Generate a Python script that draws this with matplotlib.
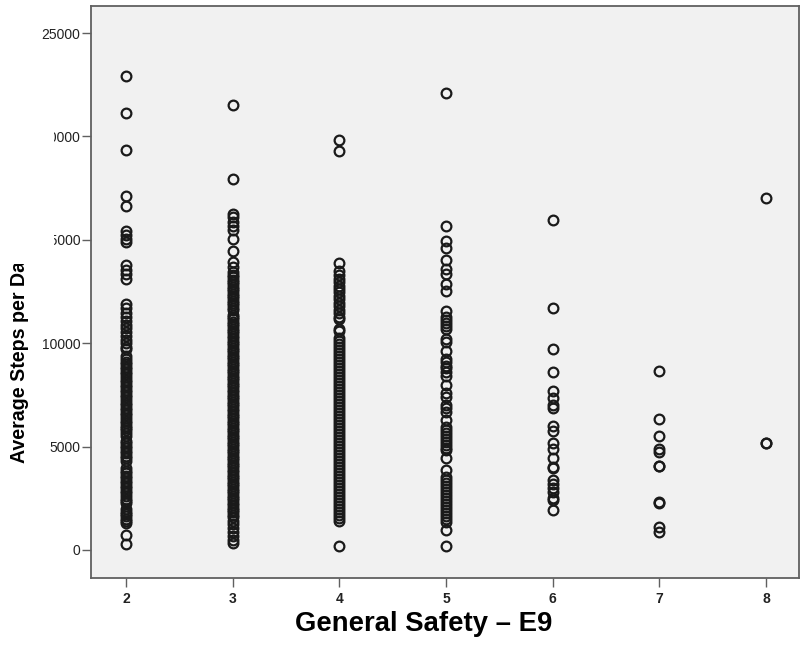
import matplotlib
matplotlib.use('Agg')
import matplotlib.pyplot as plt
from matplotlib.patches import Rectangle

plt.rcParams['font.family'] = ['Liberation Sans', 'DejaVu Sans']

# average daily steps for each general safety score (E9)
safety_2 = [22940, 21150, 19350, 17120, 16640,
            15420, 15230, 15060, 14900,
            13770, 13560, 13330, 13100,
            11880, 11690, 11480, 11260, 11080, 10900, 10720, 10540, 10360, 10170, 9990, 9830, 9700,
            9360, 9240, 9110, 8980, 8870, 8730, 8610, 8500, 8370, 8240, 8130, 8000, 7880, 7740,
            7630, 7500, 7390, 7250, 7130, 7010, 6880, 6770, 6640, 6510, 6400, 6260, 6150, 6020,
            5890, 5780, 5650, 5530, 5290, 5160, 5040, 4930, 4800, 4680, 4560, 4430, 4320,
            3950, 3820, 3710, 3580, 3460, 3340, 3220, 3100, 2980, 2850, 2740, 2610, 2490, 2370,
            2250, 1980, 1860, 1750, 1630, 1510, 1400, 1300,
            720, 280]
safety_3 = [21530, 17950, 16250, 16080, 15880, 15690, 15480, 15040, 14450, 13920, 13700, 13450,
            13300, 13190, 13080, 12960, 12850, 12740, 12620, 12510, 12400, 12280, 12170, 12050,
            11940, 11830, 11710, 11600, 11380, 11270, 11150, 11040, 10930, 10810, 10700, 10590,
            10470, 10360, 10240, 10130, 10020, 9900, 9790, 9680, 9560, 9450, 9330, 9220, 9110,
            8990, 8880, 8770, 8650, 8540, 8420, 8310, 8200, 8080, 7970, 7860, 7740, 7630, 7510,
            7400, 7290, 7170, 7060, 6950, 6830, 6720, 6600, 6490, 6380, 6260, 6150, 6040, 5920,
            5810, 5690, 5580, 5470, 5350, 5240, 5130, 5010, 4900, 4780, 4670, 4560, 4440, 4330,
            4220, 4100, 3990, 3870, 3760, 3650, 3530, 3420, 3310, 3190, 3080, 2960, 2850, 2740,
            2620, 2510, 2400, 2280, 2170, 2050, 1940, 1830, 1710, 1600, 1420, 1240, 1060, 880,
            700, 500, 330]
safety_4 = [19840, 19300, 13870, 13480, 13280, 13120, 12940, 12790, 12610, 12460, 12280, 12130,
            11950, 11800, 11620, 11470, 11290, 11150, 10670, 10580, 10260, 10120, 9970, 9830,
            9680, 9540, 9390, 9250, 9100, 8960, 8810, 8670, 8520, 8380, 8230, 8090, 7940, 7800,
            7650, 7510, 7360, 7220, 7070, 6930, 6780, 6640, 6490, 6350, 6200, 6060, 5910, 5770,
            5620, 5480, 5330, 5190, 5040, 4900, 4750, 4610, 4460, 4320, 4170, 4030, 3880, 3740,
            3590, 3450, 3300, 3160, 3010, 2870, 2720, 2580, 2430, 2290, 2140, 2000, 1850, 1710,
            1560, 1420, 200]
safety_5 = [22120, 15670, 14940, 14600, 14020, 13580, 13340, 12850, 12510, 11540, 11250, 11100,
            10960, 10820, 10670, 10190, 10040, 9600, 9220, 9070, 8920, 8780, 8630, 8390, 8000,
            7610, 7420, 7030, 6880, 6690, 6310, 5970, 5820, 5670, 5530, 5380, 5240, 5090, 4950,
            4850, 4460, 3880, 3540, 3400, 3250, 3110, 2960, 2820, 2670, 2530, 2380, 2240, 2090,
            1950, 1800, 1660, 1510, 1370, 970, 190]
safety_6 = [15960, 11720, 9720, 8620, 7700, 7340, 7010, 6850, 6010, 5770, 5160, 4870, 4430,
            4000, 3950, 3390, 3190, 2980, 2820, 2500, 2420, 1930]
safety_7 = [8660, 6320, 5510, 4870, 4750, 4080, 4050, 2310, 2280, 1130, 890]
safety_8 = [17020, 5180, 5150]

scores = [2, 3, 4, 5, 6, 7, 8]
steps = [safety_2, safety_3, safety_4, safety_5, safety_6, safety_7, safety_8]

y_ticks = [0, 5000, 10000, 15000, 20000, 25000]

W, H = 801, 655


def main():
    fig = plt.figure(figsize=(W / 100, H / 100), dpi=100)
    ax = fig.add_axes([91 / W, 1 - 578 / H, 708 / W, 572 / H])
    ax.set_facecolor('#f1f1f1')

    for score, vals in zip(scores, steps):
        ax.plot([score] * len(vals), vals, linestyle='none', marker='o', ms=7.0,
                mfc='none', mec='#1a1a1a', mew=1.6)

    ax.set_xlim(1.672, 8.309)
    ax.set_ylim(-1354, 26306)
    ax.set_xticks(scores)
    ax.set_xticklabels([str(s) for s in scores], fontsize=10, fontweight='bold',
                       family=['Liberation Sans Narrow', 'Liberation Sans'], color='#222222')
    ax.set_yticks(y_ticks)
    ax.set_yticklabels([str(v) for v in y_ticks], fontsize=10, color='#222222')

    for side in ax.spines.values():
        side.set_color('#606060')
        side.set_linewidth(1.3)
    ax.tick_params(axis='both', direction='out', length=6.5, width=1.0, color='#606060')
    ax.tick_params(axis='y', pad=1)
    ax.tick_params(axis='x', pad=3.5)

    fig.text(424 / W, 1 - 611 / H, 'General Safety \u2013 E9', ha='center', va='top',
             fontsize=19.8, fontweight='bold')
    fig.text(20 / W, 1 - 463 / H, 'Average Steps per Day', rotation=90, ha='center',
             va='bottom', fontsize=14.1, fontweight='bold')

    # white strip over the left margin
    fig.add_artist(Rectangle((0, 1 - 264 / H), 54 / W, 200 / H, transform=fig.transFigure,
                             facecolor='white', edgecolor='none', zorder=10))

    fig.savefig('out.png', dpi=100)


if __name__ == "__main__":
    main()
